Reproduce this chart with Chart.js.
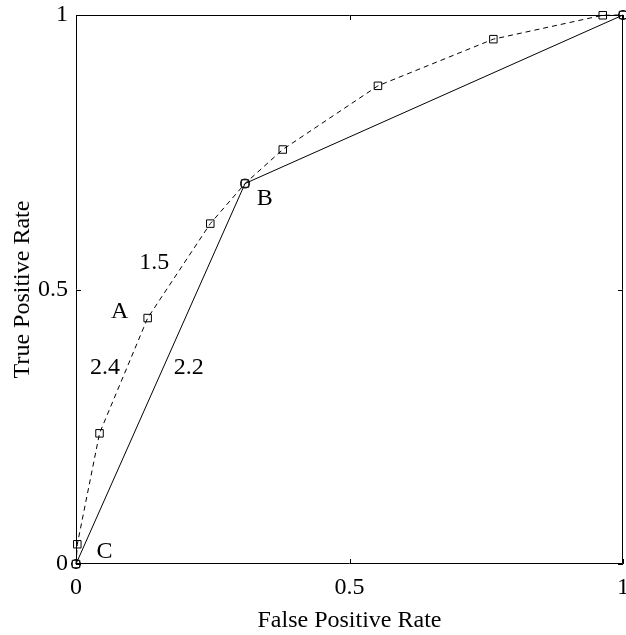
<!DOCTYPE html>
<html>
<head>
<meta charset="utf-8">
<title>ROC curves</title>
<script src="https://cdn.jsdelivr.net/npm/chart.js@4.4.1/dist/chart.umd.min.js"></script>
<style>
  html, body { margin: 0; padding: 0; background: #fff; }
  canvas { display: block; }
</style>
</head>
<body>
<canvas id="roc" width="626" height="635"></canvas>
<script>
// ROC curve of the scored classifier (dashed, square markers)
const curveFpr = [0, 0.0024, 0.043, 0.131, 0.2455, 0.309, 0.378, 0.552, 0.763, 0.963, 1];
const curveTpr = [0, 0.036, 0.238, 0.448, 0.620, 0.693, 0.755, 0.871, 0.956, 0.9995, 1];

// Convex hull through the discrete classifiers C and B (solid, circle markers)
const hullFpr = [0, 0.309, 1];
const hullTpr = [0, 0.693, 1];

// Axis ticks
const tickValues = [0, 0.5, 1];
const tickLabels = ['0', '0.5', '1'];

// Text annotations (point names and slopes) and where they sit, in data units
const noteTexts = ['A', 'B', 'C', '1.5', '2.4', '2.2'];
const noteX = [0.080, 0.345, 0.052, 0.143, 0.053, 0.206];
const noteY = [0.459, 0.665, 0.023, 0.548, 0.357, 0.357];

const FONT = 'Liberation Serif, Times New Roman, serif';

const toPoints = (xs, ys) => xs.map((x, i) => ({ x: x, y: ys[i] }));

// Box around the plot with short inward ticks on all four sides
const frame = {
  id: 'frame',
  afterDraw(chart) {
    const { ctx, chartArea: a, scales } = chart;
    const len = 5;
    ctx.save();
    ctx.strokeStyle = '#000';
    ctx.lineWidth = 1;
    ctx.beginPath();
    ctx.rect(Math.round(a.left) + 0.5, Math.round(a.top) + 0.5,
             Math.round(a.right - a.left) - 1, Math.round(a.bottom - a.top) - 1);
    scales.x.ticks.forEach(t => {
      const px = Math.round(scales.x.getPixelForValue(t.value)) + 0.5;
      ctx.moveTo(px, a.bottom); ctx.lineTo(px, a.bottom - len);
      ctx.moveTo(px, a.top); ctx.lineTo(px, a.top + len);
    });
    scales.y.ticks.forEach(t => {
      const py = Math.round(scales.y.getPixelForValue(t.value)) + 0.5;
      ctx.moveTo(a.left, py); ctx.lineTo(a.left + len, py);
      ctx.moveTo(a.right, py); ctx.lineTo(a.right - len, py);
    });
    ctx.stroke();
    ctx.restore();
  }
};

// Point names and slope values written inside the plot
const notes = {
  id: 'notes',
  afterDatasetsDraw(chart) {
    const { ctx, scales } = chart;
    ctx.save();
    ctx.fillStyle = '#000';
    ctx.font = '24px ' + FONT;
    ctx.textAlign = 'center';
    ctx.textBaseline = 'middle';
    noteTexts.forEach((txt, i) => {
      ctx.fillText(txt, scales.x.getPixelForValue(noteX[i]), scales.y.getPixelForValue(noteY[i]));
    });
    ctx.restore();
  }
};

const fixedTicks = scale => {
  scale.ticks = tickValues.map(v => ({ value: v }));
};

// Keep edge tick labels from pushing the plot area inwards
const noEdgePadding = scale => {
  scale.paddingLeft = 0; scale.paddingRight = 0;
  scale.paddingTop = 0; scale.paddingBottom = 0;
};

new Chart(document.getElementById('roc'), {
  type: 'scatter',
  data: {
    datasets: [
      {
        label: 'ROC curve',
        data: toPoints(curveFpr, curveTpr),
        showLine: true,
        borderColor: '#000',
        borderWidth: 1,
        borderDash: [5, 4],
        pointStyle: 'rect',
        pointRadius: 5.3,
        pointBorderWidth: 1,
        pointBorderColor: '#000',
        pointBackgroundColor: 'rgba(0,0,0,0)',
        clip: false
      },
      {
        label: 'Convex hull',
        data: toPoints(hullFpr, hullTpr),
        showLine: true,
        borderColor: '#000',
        borderWidth: 1,
        pointStyle: 'circle',
        pointRadius: 4.5,
        pointBorderWidth: 1,
        pointBorderColor: '#000',
        pointBackgroundColor: 'rgba(0,0,0,0)',
        clip: false
      }
    ]
  },
  options: {
    responsive: false,
    animation: false,
    devicePixelRatio: 1,
    layout: { autoPadding: false, padding: { top: 15, right: 3, left: 0, bottom: 0 } },
    plugins: { legend: { display: false }, tooltip: { enabled: false } },
    scales: {
      x: {
        type: 'linear',
        min: 0, max: 1,
        afterBuildTicks: fixedTicks,
        afterFit(scale) { scale.height = 71; noEdgePadding(scale); },
        grid: { display: false, drawTicks: false },
        border: { display: false },
        ticks: {
          padding: 9,
          color: '#000',
          font: { family: FONT, size: 24 },
          maxRotation: 0,
          autoSkip: false,
          callback: (v) => tickLabels[tickValues.indexOf(v)]
        },
        title: {
          display: true,
          text: 'False Positive Rate',
          color: '#000',
          font: { family: FONT, size: 24 },
          padding: { top: 0, bottom: 0 }
        }
      },
      y: {
        type: 'linear',
        min: 0, max: 1,
        afterBuildTicks: fixedTicks,
        afterFit(scale) { scale.width = 76; noEdgePadding(scale); },
        grid: { display: false, drawTicks: false },
        border: { display: false },
        ticks: {
          padding: 8,
          color: '#000',
          font: { family: FONT, size: 24 },
          autoSkip: false,
          callback: (v) => tickLabels[tickValues.indexOf(v)]
        },
        title: {
          display: true,
          text: 'True Positive Rate',
          color: '#000',
          font: { family: FONT, size: 24 },
          padding: { top: 8, bottom: 0 }
        }
      }
    }
  },
  plugins: [frame, notes]
});
</script>
</body>
</html>
